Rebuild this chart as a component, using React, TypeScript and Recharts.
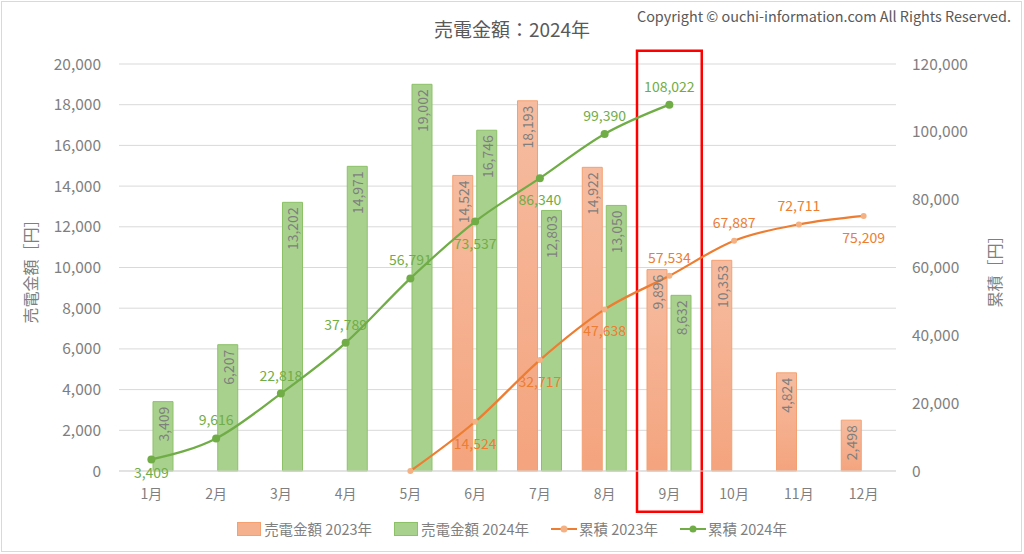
import {
  Bar,
  CartesianGrid,
  ComposedChart,
  LabelList,
  Line,
  ReferenceArea,
  XAxis,
  YAxis,
} from "recharts";

const months = ["1月", "2月", "3月", "4月", "5月", "6月", "7月", "8月", "9月", "10月", "11月", "12月"];
const sales2023 = [null, null, null, null, null, 14524, 18193, 14922, 9896, 10353, 4824, 2498];
const sales2024 = [3409, 6207, 13202, 14971, 19002, 16746, 12803, 13050, 8632, null, null, null];
const cum2023 = [null, null, null, null, 0, 14524, 32717, 47638, 57534, 67887, 72711, 75209];
const cum2024 = [3409, 9616, 22818, 37789, 56791, 73537, 86340, 99390, 108022, null, null, null];
const leftTicks = [0, 2000, 4000, 6000, 8000, 10000, 12000, 14000, 16000, 18000, 20000];
const rightTicks = [0, 20000, 40000, 60000, 80000, 100000, 120000];

const ORANGE = "#ED7D31";
const GREEN = "#70AD47";
const GREY = "#7F7F7F";
const FONT = "'Noto Sans CJK JP', 'Noto Sans', sans-serif";

// which cumulative labels sit under their point (index)
const below2023 = [5, 6, 7, 11];
const below2024 = [0, 5, 6];

const fmt = (v: number) => v.toLocaleString("en-US");

const rows = months.map((m, i) => ({
  month: m,
  s2023: sales2023[i],
  s2024: sales2024[i],
  c2023: cum2023[i],
  c2024: cum2024[i],
}));

function BarValue(props: any) {
  const { x, y, width, value } = props;
  if (value == null) return null;
  const cx = x + width / 2;
  const ty = y + 5;
  return (
    <text
      x={cx}
      y={ty}
      transform={`rotate(-90, ${cx}, ${ty})`}
      textAnchor="end"
      dominantBaseline="central"
      fill={GREY}
      fontSize={14}
      fontFamily={FONT}
    >
      {fmt(value)}
    </text>
  );
}

function lineValue(color: string, below: number[], skipZero: boolean) {
  return (props: any) => {
    const { x, y, value, index } = props;
    if (value == null || (skipZero && value === 0)) return null;
    const under = below.includes(index);
    // the first point sits close to the axis, so its label hugs it
    const dy = under ? (index === 0 ? 13 : 21) : -19;
    return (
      <text
        x={x}
        y={y + dy}
        textAnchor="middle"
        dominantBaseline="central"
        fill={color}
        fontSize={14}
        fontFamily={FONT}
      >
        {fmt(value)}
      </text>
    );
  };
}

function LegendItem({ kind, color, fill, text }: { kind: "bar" | "line"; color: string; fill: string; text: string }) {
  return (
    <div style={{ display: "flex", alignItems: "center", marginRight: 22 }}>
      {kind === "bar" ? (
        <div style={{ width: 22, height: 12, background: fill, border: `1px solid ${color}`, marginRight: 3 }} />
      ) : (
        <svg width={26} height={12} style={{ marginRight: 2 }}>
          <line x1={0} y1={6} x2={26} y2={6} stroke={color} strokeWidth={2} />
          <circle cx={13} cy={6} r={3.5} fill={fill} />
        </svg>
      )}
      <span>{text}</span>
    </div>
  );
}

export default function App() {
  return (
    <div style={{ position: "absolute", left: 0, top: 0, width: 1024, height: 554, background: "#fff", fontFamily: FONT }}>
      <div
        style={{
          position: "absolute",
          left: 1,
          top: 1,
          width: 1021,
          height: 551,
          border: "1.5px solid #D9D9D9",
          boxSizing: "border-box",
        }}
      />
      <div style={{ position: "absolute", left: 0, width: 1024, top: 15, textAlign: "center", fontSize: 19, color: "#595959" }}>
        売電金額：2024年
      </div>
      <div style={{ position: "absolute", right: 13, top: 5, fontSize: 14.4, color: "#595959" }}>
        Copyright © ouchi-information.com All Rights Reserved.
      </div>
      <ComposedChart
        width={1024}
        height={554}
        data={rows}
        margin={{ top: 64, right: 0, bottom: 53, left: 0 }}
        barSize={20}
        barGap={4}
      >
        <defs>
          <linearGradient id="orangeFill" x1="0" y1="0" x2="0" y2="1">
            <stop offset="0%" stopColor="#F6BCA0" />
            <stop offset="100%" stopColor="#F4A47E" />
          </linearGradient>
        </defs>
        <CartesianGrid vertical={false} stroke="#D9D9D9" yAxisId="left" />
        <XAxis
          dataKey="month"
          tickLine={false}
          axisLine={{ stroke: "#D9D9D9" }}
          height={30}
          tickMargin={12}
          tick={{ fill: GREY, fontSize: 14, fontFamily: FONT }}
        />
        <YAxis
          yAxisId="left"
          domain={[0, 20000]}
          ticks={leftTicks}
          tickFormatter={fmt}
          width={119}
          tickLine={false}
          axisLine={false}
          tickMargin={12}
          tick={{ fill: GREY, fontSize: 15.5, fontFamily: FONT }}
          label={{ value: "売電金額［円］", angle: -90, position: "center", dx: -28, fill: GREY, fontSize: 16, fontFamily: FONT }}
        />
        <YAxis
          yAxisId="right"
          orientation="right"
          domain={[0, 120000]}
          ticks={rightTicks}
          tickFormatter={fmt}
          width={128}
          tickLine={false}
          axisLine={false}
          tickMargin={10}
          tick={{ fill: GREY, fontSize: 15.5, fontFamily: FONT, textAnchor: "start" }}
          label={{ value: "累積［円］", angle: -90, position: "center", dx: 35, fill: GREY, fontSize: 16, fontFamily: FONT }}
        />
        <Bar yAxisId="left" dataKey="s2023" fill="url(#orangeFill)" stroke="#F4A070" strokeWidth={1} isAnimationActive={false}>
          <LabelList dataKey="s2023" content={BarValue} />
        </Bar>
        <Bar yAxisId="left" dataKey="s2024" fill="#A9D18E" stroke="#8CC168" strokeWidth={1} isAnimationActive={false}>
          <LabelList dataKey="s2024" content={BarValue} />
        </Bar>
        <Line
          yAxisId="right"
          dataKey="c2023"
          type="monotone"
          stroke={ORANGE}
          strokeWidth={2.25}
          dot={{ r: 3, fill: "#F4B183", stroke: "none" }}
          activeDot={false}
          isAnimationActive={false}
        >
          <LabelList dataKey="c2023" content={lineValue(ORANGE, below2023, true)} />
        </Line>
        <Line
          yAxisId="right"
          dataKey="c2024"
          type="monotone"
          stroke={GREEN}
          strokeWidth={2.25}
          dot={{ r: 4, fill: GREEN, stroke: "none" }}
          activeDot={false}
          isAnimationActive={false}
        >
          <LabelList dataKey="c2024" content={lineValue(GREEN, below2024, false)} />
        </Line>
        <ReferenceArea
          yAxisId="left"
          x1="9月"
          x2="9月"
          y1={-2000}
          y2={20650}
          ifOverflow="visible"
          fill="none"
          stroke="#FF0000"
          strokeWidth={2.5}
        />
      </ComposedChart>
      <div
        style={{
          position: "absolute",
          top: 518,
          left: 0,
          width: 1024,
          display: "flex",
          justifyContent: "center",
          fontSize: 14.5,
          color: GREY,
          paddingLeft: 22,
          boxSizing: "border-box",
        }}
      >
        <LegendItem kind="bar" color="#F4A070" fill="#F5B08E" text="売電金額 2023年" />
        <LegendItem kind="bar" color="#8CC168" fill="#A9D18E" text="売電金額 2024年" />
        <LegendItem kind="line" color={ORANGE} fill="#F4B183" text="累積 2023年" />
        <LegendItem kind="line" color={GREEN} fill={GREEN} text="累積 2024年" />
      </div>
    </div>
  );
}
